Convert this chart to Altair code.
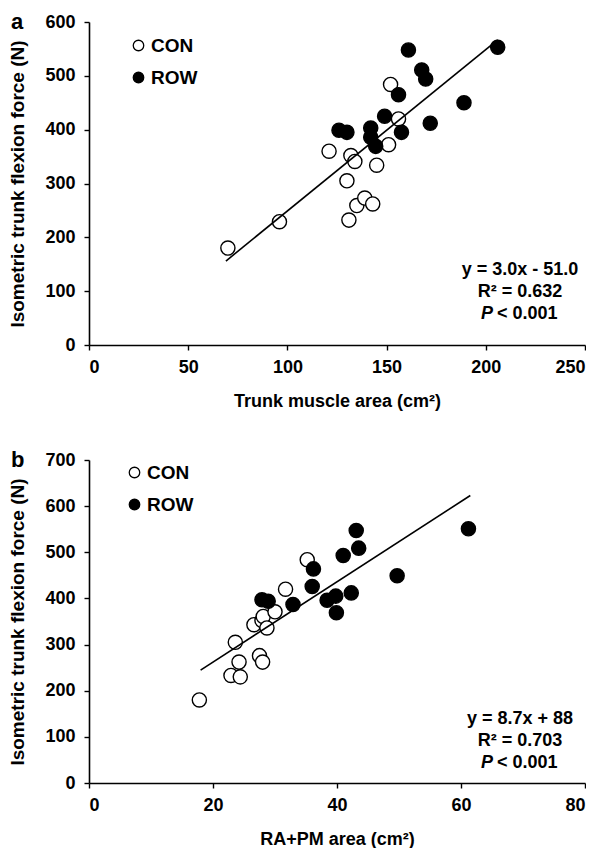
import altair as alt
import pandas as pd

FONT = "Liberation Sans"

# Panel a: trunk muscle area vs isometric trunk flexion force
con_a_x = [70, 96, 121, 130, 131, 132, 134, 135, 139, 143, 145, 151, 152, 156]
con_a_y = [180, 229, 360, 305, 232, 352, 341, 259, 273, 262, 334, 372, 484, 420]
row_a_x = [126, 130, 142, 142, 144.5, 149, 156, 157.5, 161, 167.7, 169.7, 172, 189, 206]
row_a_y = [399, 395, 403, 386, 369, 425, 465, 395, 548, 511, 494, 412, 450, 553]
fit_a = {"slope": 3.0, "intercept": -51.0, "x": [69, 206]}
stats_a = ["y = 3.0x - 51.0", "R² = 0.632", "< 0.001"]

# Panel b: RA+PM area vs isometric trunk flexion force
con_b_x = [17.8, 22.9, 23.6, 24.2, 24.4, 26.6, 27.5, 27.9, 28.0, 28.1, 28.7, 30.0, 31.7, 35.2]
con_b_y = [180, 233, 305, 262, 230, 343, 276, 352, 262, 361, 336, 371, 420, 484]
row_b_x = [27.9, 28.9, 32.9, 36.0, 36.2, 38.4, 39.8, 39.9, 41.0, 42.3, 43.1, 43.5, 49.7, 61.2]
row_b_y = [397, 394, 387, 426, 464, 396, 405, 369, 493, 412, 547, 509, 449, 551]
fit_b = {"slope": 8.7, "intercept": 88.0, "x": [18, 61.5]}
stats_b = ["y = 8.7x + 88", "R² = 0.703", "< 0.001"]

groups = ["CON", "ROW"]
y_title = "Isometric trunk flexion force (N)"

W, H = 496, 323


def make_panel(cx, cy, rx, ry, fit, stats, xdom, xstep, ydom, xtitle, label,
               legx, legy, tx, ty0):
    pts = pd.DataFrame({
        "x": cx + rx,
        "y": cy + ry,
        "group": ["CON"] * len(cx) + ["ROW"] * len(rx),
    })
    line_df = pd.DataFrame({"x": fit["x"]})
    line_df["y"] = fit["slope"] * line_df["x"] + fit["intercept"]

    xs = alt.Scale(domain=xdom, nice=False, zero=True)
    ys = alt.Scale(domain=ydom, nice=False)
    xax = alt.Axis(values=list(range(xdom[0], xdom[1] + 1, xstep)), title=xtitle)
    yax = alt.Axis(values=list(range(ydom[0], ydom[1] + 1, 100)), title=y_title)

    points = alt.Chart(pts).mark_circle(
        size=200, stroke="black", strokeWidth=1.4, opacity=1
    ).encode(
        x=alt.X("x:Q", scale=xs, axis=xax),
        y=alt.Y("y:Q", scale=ys, axis=yax),
        fill=alt.Fill(
            "group:N",
            scale=alt.Scale(domain=groups, range=["white", "black"]),
            legend=alt.Legend(
                title=None, orient="none", legendX=legx, legendY=legy,
                symbolType="circle", symbolSize=110,
                symbolStrokeColor="black", symbolStrokeWidth=1.3,
                labelFont=FONT, labelFontSize=19, labelFontWeight="bold",
                labelColor="black", labelOffset=3, rowPadding=12, padding=0,
            ),
        ),
    )

    fit_line = alt.Chart(line_df).mark_line(color="black", strokeWidth=1.6).encode(
        x=alt.X("x:Q", scale=xs), y=alt.Y("y:Q", scale=ys)
    )

    txt_df = pd.DataFrame({"t": [stats[0], stats[1]], "row": [0, 1]})
    txt_df["py"] = ty0 + txt_df["row"] * 22
    eq = alt.Chart(txt_df).mark_text(
        font=FONT, fontSize=18, fontWeight="bold", color="black",
        align="center", baseline="alphabetic",
    ).encode(text="t:N", x=alt.value(tx), y=alt.Y("py:Q", scale=None))

    p_df = pd.DataFrame({"t": ["P"]})
    p_it = alt.Chart(p_df).mark_text(
        font=FONT, fontSize=18, fontWeight="bold", fontStyle="italic",
        color="black", align="right", baseline="alphabetic",
    ).encode(text="t:N", x=alt.value(tx - 27), y=alt.value(ty0 + 44))

    p_val = alt.Chart(pd.DataFrame({"t": [stats[2]]})).mark_text(
        font=FONT, fontSize=18, fontWeight="bold", color="black",
        align="left", baseline="alphabetic",
    ).encode(text="t:N", x=alt.value(tx - 23), y=alt.value(ty0 + 44))

    lab = alt.Chart(pd.DataFrame({"t": [label]})).mark_text(
        font=FONT, fontSize=22, fontWeight="bold", color="black",
        align="left", baseline="alphabetic",
    ).encode(text="t:N", x=alt.value(-78), y=alt.value(7))

    return alt.layer(points, fit_line, eq, p_it, p_val, lab).properties(
        width=W, height=H
    )


panel_a = make_panel(con_a_x, con_a_y, row_a_x, row_a_y, fit_a, stats_a,
                     [0, 250], 50, [0, 600], "Trunk muscle area (cm²)", "a",
                     40, 14, 431, 253)
panel_b = make_panel(con_b_x, con_b_y, row_b_x, row_b_y, fit_b, stats_b,
                     [0, 80], 20, [0, 700], "RA+PM area (cm²)", "b",
                     36, 3, 431, 264)

chart = alt.vconcat(panel_a, panel_b, spacing=39).resolve_scale(
    fill="independent", x="independent", y="independent"
).resolve_legend(fill="independent").properties(
    padding={"left": 0, "top": 3, "right": 0, "bottom": 0}
).configure_view(stroke=None).configure_axis(
    domainColor="black", domainWidth=1.6, tickColor="black", tickWidth=1.4,
    tickSize=5, labelFont=FONT, labelFontSize=18, labelFontWeight="bold",
    labelColor="black", labelPadding=8, titleFont=FONT, titleFontSize=18,
    titleFontWeight="bold", titleColor="black", grid=False,
).configure_axisY(titleFontSize=19, titlePadding=17, labelPadding=9).configure_axisX(
    titlePadding=16
)

chart.save("out.html", embed_options={"renderer": "svg", "actions": False})
